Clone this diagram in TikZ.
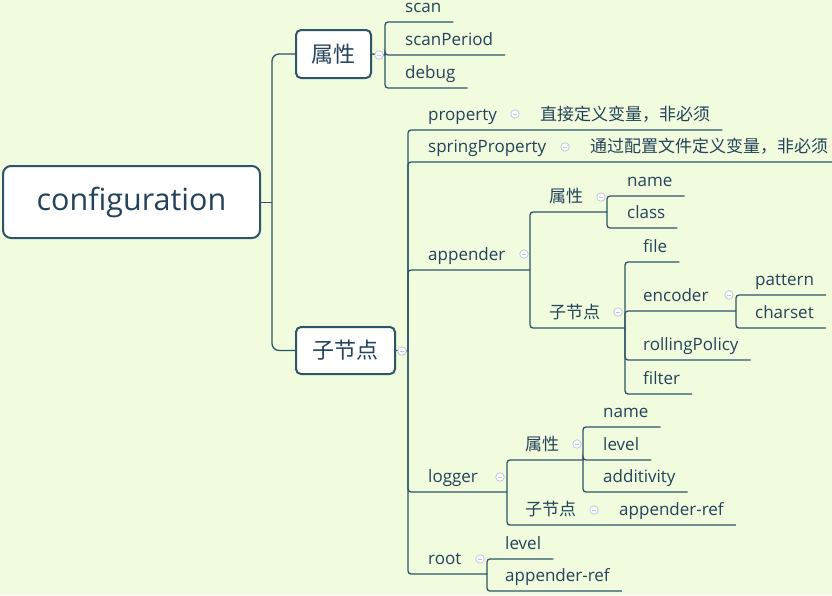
\documentclass[tikz,border=0pt]{standalone}
\usepackage{fontspec}
\setmainfont{Open Sans}
\newfontfamily\cjk{Noto Sans CJK SC}
\usepackage{xcolor}
\definecolor{bg_color}{RGB}{240,252,221}
\definecolor{line_color}{RGB}{46,84,104}
\definecolor{text_color}{RGB}{36,66,90}
\definecolor{mark_color}{RGB}{192,200,222}

\begin{document}
\begin{tikzpicture}[x=1pt, y=-1pt,
    topic/.style={anchor=south west, inner xsep=12pt, inner ysep=0pt, text height=13pt, text depth=9pt,
      font=\fontsize{17}{20}\selectfont, text=text_color},
    cntopic/.style={topic, font=\cjk\fontsize{17}{20}\selectfont},
    branch/.style={draw=line_color, line width=1.3pt, rounded corners=3pt},
    catbox/.style={draw=line_color, fill=white, line width=2pt, rounded corners=5pt,
      font=\cjk\fontsize{22}{26}\selectfont, text=text_color},
    rootbox/.style={draw=line_color, fill=white, line width=2pt, rounded corners=8pt,
      minimum width=257pt, minimum height=72pt, font=\fontsize{30.5}{36}\selectfont, text=text_color},
    marker/.style={circle, draw=mark_color, fill=white, line width=0.8pt, minimum size=8.5pt, inner sep=0pt,
      path picture={\draw[mark_color, line width=0.8pt] ([xshift=2pt]path picture bounding box.west)
        -- ([xshift=-2pt]path picture bounding box.east);}}]

      % 0. Fondo
      \useasboundingbox (0,0) rectangle (832,595);
      \fill[bg_color] (0,0) rectangle (832,595);

      % 1. Nodo raíz y las dos ramas principales
      \node[rootbox] (config) at (131.5,202) {configuration};
      \node[catbox, minimum width=75pt, minimum height=48pt] (attr) at (333.5,54) {属性};
      \node[catbox, minimum width=99pt, minimum height=47pt] (sub) at (345.5,350.5) {子节点};
      \coordinate (j-config) at (272,202);
      \draw[branch, line width=1pt] (config.east) -- (j-config);
      \draw[branch, rounded corners=7pt] (j-config) |- (attr.west);
      \draw[branch, rounded corners=7pt] (j-config) |- (sub.west);

      % 2. 属性 (arriba)
      \coordinate (j-attr) at (385,55);
      \draw[branch] (attr.east) -- (j-attr);
      \node[topic] (scan) at (393,22) {scan};
      \node[topic] (scanPeriod) at (393,55) {scanPeriod};
      \node[topic] (debug) at (393,88) {debug};
      \draw[branch] (j-attr) |- (scan.south east);
      \draw[branch] (j-attr) |- (scanPeriod.south east);
      \draw[branch] (j-attr) |- (debug.south east);

      % 3. 子节点 (abajo)
      \coordinate (j-sub) at (408,351);
      \draw[branch] (sub.east) -- (j-sub);

      % property / springProperty
      \node[topic] (property) at (416,130) {property};
      \node[cntopic] (property-note) at (528,130) {直接定义变量，非必须};
      \draw[branch] (j-sub) |- (property-note.south east);
      \node[topic] (springProperty) at (416,162) {springProperty};
      \node[cntopic] (springProperty-note) at (578,162) {通过配置文件定义变量，非必须};
      \draw[branch] (j-sub) |- (springProperty-note.south east);

      % appender
      \node[topic] (appender) at (416,270) {appender};
      \coordinate (j-appender) at (530,270);
      \draw[branch] (j-sub) |- (j-appender);

      \node[cntopic] (appender-attr) at (537,212) {属性};
      \coordinate (j-appender-attr) at (607,212);
      \draw[branch] (j-appender) |- (j-appender-attr);
      \node[topic] (appender-name) at (615,196) {name};
      \node[topic] (appender-class) at (615,228) {class};
      \draw[branch] (j-appender-attr) |- (appender-name.south east);
      \draw[branch] (j-appender-attr) |- (appender-class.south east);

      \node[cntopic] (appender-sub) at (537,328) {子节点};
      \coordinate (j-appender-sub) at (625,328);
      \draw[branch] (j-appender) |- (j-appender-sub);
      \node[topic] (file) at (631,262) {file};
      \node[topic] (encoder) at (631,311) {encoder};
      \node[topic] (rollingPolicy) at (631,360) {rollingPolicy};
      \node[topic] (filter) at (631,394) {filter};
      \coordinate (j-encoder) at (736,311);
      \draw[branch] (j-appender-sub) |- (file.south east);
      \draw[branch] (j-appender-sub) |- (j-encoder);
      \draw[branch] (j-appender-sub) |- (rollingPolicy.south east);
      \draw[branch] (j-appender-sub) |- (filter.south east);
      \node[topic] (pattern) at (743,295) {pattern};
      \node[topic] (charset) at (743,328) {charset};
      \draw[branch] (j-encoder) |- (pattern.south east);
      \draw[branch] (j-encoder) |- (charset.south east);

      % logger
      \node[topic] (logger) at (416,492) {logger};
      \coordinate (j-logger) at (507,492);
      \draw[branch] (j-sub) |- (j-logger);

      \node[cntopic] (logger-attr) at (513,460) {属性};
      \coordinate (j-logger-attr) at (583,460);
      \draw[branch] (j-logger) |- (j-logger-attr);
      \node[topic] (logger-name) at (591,427) {name};
      \node[topic] (logger-level) at (591,460) {level};
      \node[topic] (additivity) at (591,492) {additivity};
      \draw[branch] (j-logger-attr) |- (logger-name.south east);
      \draw[branch] (j-logger-attr) |- (logger-level.south east);
      \draw[branch] (j-logger-attr) |- (additivity.south east);

      \node[cntopic] (logger-sub) at (513,525) {子节点};
      \node[topic] (logger-ref) at (607,525) {appender-ref};
      \draw[branch] (j-logger) |- (logger-ref.south east);

      % root
      \node[topic] (root) at (416,574) {root};
      \coordinate (j-root) at (487,574);
      \draw[branch] (j-sub) |- (j-root);
      \node[topic] (root-level) at (493,559) {level};
      \node[topic] (root-ref) at (493,591) {appender-ref};
      \draw[branch] (j-root) |- (root-level.south east);
      \draw[branch] (j-root) |- (root-ref.south east);

      % 4. Marcadores de plegado
      \node[marker] (m-attr) at (379,55) {};
      \node[marker] (m-sub) at (402,351) {};
      \node[marker] (m-property) at (515,114) {};
      \node[marker] (m-springProperty) at (565,147) {};
      \node[marker] (m-appender) at (524,254) {};
      \node[marker] (m-appender-attr) at (601,197) {};
      \node[marker] (m-appender-sub) at (618,312) {};
      \node[marker] (m-encoder) at (729,295) {};
      \node[marker] (m-logger) at (500,477) {};
      \node[marker] (m-logger-attr) at (577,444) {};
      \node[marker] (m-logger-sub) at (594,510) {};
      \node[marker] (m-root) at (480,559) {};

\end{tikzpicture}
\end{document}
